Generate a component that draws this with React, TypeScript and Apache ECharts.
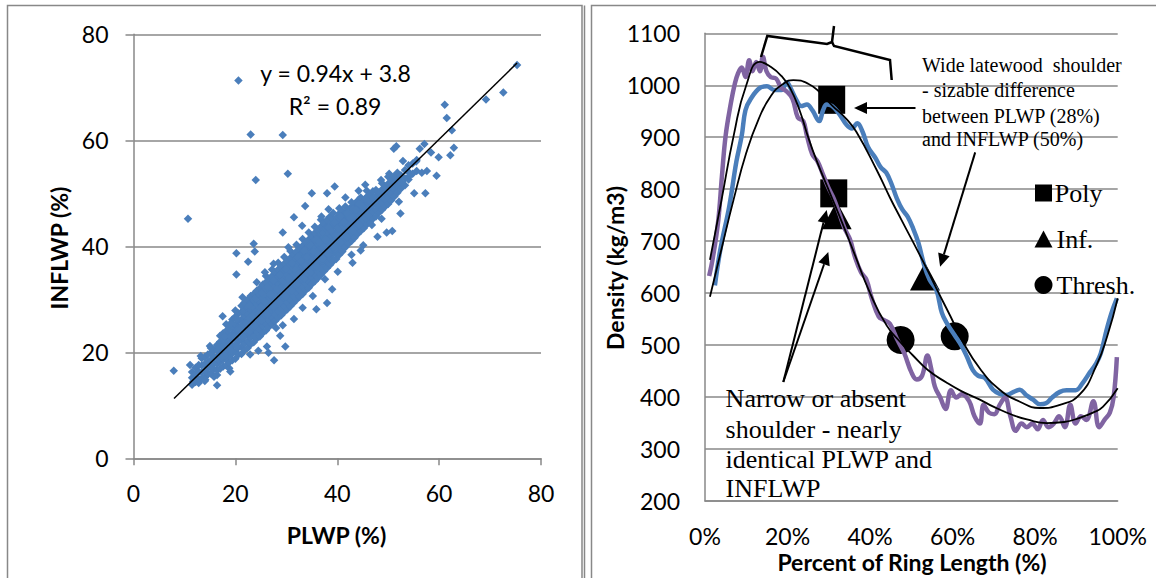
import React, { useEffect, useRef } from "react";
import * as echarts from "echarts";

// ---------- Left panel: PLWP vs INFLWP scatter ----------
// dense cloud, one row per PLWP column: [PLWP, INFLWP values]
const cloudRows: [number, number[]][] = [
  [11.5, [13.9, 15.2, 16.3]],
  [12.2, [14.4, 15.8, 17.1]],
  [12.8, [14.2, 15.0, 16.4, 17.6]],
  [13.4, [15.1, 16.2, 17.5, 18.9]],
  [14.0, [14.6, 15.3, 16.5, 17.8, 19.1]],
  [14.6, [15.8, 16.1, 17.0, 18.2, 19.6]],
  [15.2, [16.0, 17.3, 18.6, 19.9, 20.8]],
  [15.8, [15.4, 16.8, 18.0, 19.2, 20.5]],
  [16.4, [15.7, 16.6, 17.8, 19.1, 20.3, 21.4]],
  [17.0, [16.9, 18.2, 19.5, 20.7, 22.0, 23.1]],
  [17.6, [17.3, 18.6, 19.9, 21.2, 22.4, 23.6]],
  [18.2, [17.5, 18.8, 20.1, 21.5, 22.8, 24.0, 25.3]],
  [18.8, [17.0, 18.1, 19.4, 20.7, 22.0, 23.2, 24.5]],
  [19.4, [18.5, 19.8, 21.1, 22.4, 23.6, 24.9, 26.2]],
  [20.0, [18.8, 20.1, 21.4, 22.7, 24.0, 25.3, 26.7, 27.9]],
  [20.6, [19.6, 20.9, 22.2, 23.5, 24.8, 26.0, 27.3]],
  [21.2, [19.7, 21.0, 22.3, 23.6, 24.9, 26.2, 27.6, 28.8]],
  [21.8, [20.4, 21.7, 23.0, 24.3, 25.6, 26.9, 28.2, 29.4]],
  [22.4, [20.8, 22.1, 23.4, 24.7, 26.0, 27.3, 28.5, 29.9]],
  [23.0, [21.5, 22.8, 24.1, 25.4, 26.7, 28.0, 29.3, 30.6]],
  [23.6, [21.9, 23.2, 24.5, 25.8, 27.1, 28.4, 29.7, 31.0]],
  [24.2, [22.6, 23.9, 25.2, 26.5, 27.8, 29.1, 30.4, 31.6, 33.2]],
  [24.8, [23.0, 24.3, 25.6, 26.9, 28.2, 29.5, 30.8, 32.1]],
  [25.4, [23.7, 25.0, 26.3, 27.6, 28.9, 30.2, 31.5, 32.8]],
  [26.0, [24.1, 25.4, 26.7, 28.0, 29.3, 30.6, 31.9, 33.2, 34.4]],
  [26.6, [24.8, 26.1, 27.4, 28.7, 30.0, 31.3, 32.6, 33.9]],
  [27.2, [25.3, 26.6, 27.9, 29.2, 30.5, 31.8, 33.1, 34.4, 35.6]],
  [27.8, [25.9, 27.2, 28.5, 29.8, 31.1, 32.4, 33.7, 35.0]],
  [28.4, [26.5, 27.8, 29.1, 30.4, 31.7, 33.0, 34.3, 35.6, 36.9]],
  [29.0, [27.0, 28.3, 29.6, 30.9, 32.2, 33.5, 34.8, 36.1]],
  [29.6, [27.6, 28.9, 30.2, 31.5, 32.8, 34.1, 35.4, 36.7, 38.0]],
  [30.2, [28.1, 29.4, 30.7, 32.0, 33.3, 34.6, 35.9, 37.2]],
  [30.8, [28.7, 30.0, 31.3, 32.6, 33.9, 35.2, 36.5, 37.8, 39.1]],
  [31.4, [29.3, 30.6, 31.9, 33.2, 34.5, 35.8, 37.1, 38.4]],
  [32.0, [29.9, 31.2, 32.5, 33.8, 35.1, 36.4, 37.7, 39.0, 40.3]],
  [32.6, [30.5, 31.8, 33.1, 34.4, 35.7, 37.0, 38.3, 39.6]],
  [33.2, [31.0, 32.3, 33.6, 34.9, 36.2, 37.5, 38.8, 40.1, 41.4]],
  [33.8, [31.7, 33.0, 34.3, 35.6, 36.9, 38.2, 39.5, 40.8]],
  [34.4, [32.2, 33.5, 34.8, 36.1, 37.4, 38.7, 40.0, 41.3, 42.6]],
  [35.0, [32.9, 34.2, 35.5, 36.8, 38.1, 39.4, 40.7, 42.0]],
  [35.6, [33.4, 34.7, 36.0, 37.3, 38.6, 39.9, 41.2, 42.5, 43.7]],
  [36.2, [34.0, 35.3, 36.6, 37.9, 39.2, 40.5, 41.8, 43.1]],
  [36.8, [34.6, 35.9, 37.2, 38.5, 39.8, 41.1, 42.4, 43.7, 45.0]],
  [37.4, [35.3, 36.6, 37.9, 39.2, 40.5, 41.8, 43.1, 44.4]],
  [38.0, [35.9, 37.2, 38.5, 39.8, 41.1, 42.4, 43.7, 45.0]],
  [38.6, [36.5, 37.8, 39.1, 40.4, 41.7, 43.0, 44.3, 45.6]],
  [39.2, [37.2, 38.5, 39.8, 41.1, 42.4, 43.7, 45.0, 46.3]],
  [39.8, [37.6, 38.9, 40.2, 41.5, 42.8, 44.1, 45.4]],
  [40.4, [38.4, 39.7, 41.0, 42.3, 43.6, 44.9, 46.2, 47.2]],
  [41.0, [39.0, 40.3, 41.6, 42.9, 44.2, 45.5, 46.6]],
  [41.6, [39.8, 41.1, 42.4, 43.7, 45.0, 46.3, 47.5]],
  [42.2, [40.5, 41.8, 43.1, 44.4, 45.7, 46.9]],
  [42.8, [41.0, 42.3, 43.6, 44.9, 46.2, 47.4, 48.3]],
  [43.4, [41.6, 42.9, 44.2, 45.5, 46.8, 48.0]],
  [44.0, [42.3, 43.6, 44.9, 46.2, 47.5, 48.6]],
  [44.6, [42.9, 44.2, 45.5, 46.8, 48.1, 49.2]],
  [45.2, [43.4, 44.7, 46.0, 47.3, 48.6]],
  [45.8, [44.1, 45.4, 46.7, 48.0, 49.3, 50.5]],
  [46.4, [44.6, 45.9, 47.2, 48.5, 49.8]],
  [47.0, [45.2, 46.5, 47.8, 49.1, 50.4]],
  [47.6, [45.6, 46.9, 48.2, 49.5, 50.6]],
  [48.2, [46.4, 47.7, 49.0, 50.2]],
  [48.8, [46.9, 48.2, 49.5, 50.7, 51.9]],
  [49.4, [47.5, 48.8, 50.1, 51.3]],
  [50.0, [48.0, 49.3, 50.6, 51.8, 53.1]],
  [50.6, [48.7, 50.0, 51.3, 52.6]],
  [51.2, [49.4, 50.7, 52.0, 53.2]],
  [51.8, [50.1, 51.4, 52.7, 53.9]],
  [52.5, [50.9, 52.1, 53.4]],
  [53.3, [51.5, 52.8, 54.4]],
  [54.0, [52.6, 54.0, 55.3]],
  [54.8, [53.7, 55.6]],
  [55.6, [54.2, 56.3]],
  // interleaved core rows
  [16.7, [18.6, 21.0]],
  [17.9, [19.3, 21.9, 23.0]],
  [19.1, [20.4, 23.0, 25.5]],
  [20.3, [21.7, 24.3, 26.3]],
  [21.5, [22.9, 25.4, 27.7]],
  [22.7, [23.6, 26.4, 28.9]],
  [23.9, [24.9, 27.5, 30.1]],
  [25.1, [26.1, 28.6, 31.2]],
  [26.3, [27.1, 29.8, 32.3]],
  [27.5, [28.3, 30.9, 33.5]],
  [28.7, [29.4, 32.0, 34.6]],
  [29.9, [30.5, 33.1, 35.7]],
  [31.1, [31.6, 34.2, 36.8]],
  [32.3, [32.8, 35.4, 38.0]],
  [33.5, [33.9, 36.5, 39.1]],
  [34.7, [35.0, 37.6, 40.2]],
  [35.9, [36.1, 38.7, 41.3]],
  [37.1, [37.3, 39.9, 42.5]],
  [38.3, [38.4, 41.0, 43.6]],
  [39.5, [39.5, 42.1, 44.5]],
  [40.7, [40.7, 43.3, 45.6]],
  [41.9, [41.8, 44.4, 46.2]],
  [43.1, [42.9, 45.5, 47.1]],
  [44.3, [44.0, 46.6, 48.0]],
  [45.5, [45.2, 47.6, 49.0]],
];

// extra points between the rows of the dense core [PLWP, INFLWP]
const corePoints: [number, number][] = [
  [17.3, 19.0], [18.5, 21.2], [19.7, 23.0], [20.9, 24.2], [22.1, 25.5], [23.3, 26.9],
  [24.5, 27.3], [25.7, 29.6], [26.9, 30.9], [28.1, 31.9], [29.3, 33.4], [30.5, 34.0],
  [31.7, 35.6], [32.9, 37.2], [34.1, 38.0], [35.3, 39.0], [36.5, 40.7], [37.7, 41.3],
  [38.9, 42.9], [40.1, 43.4], [41.3, 44.6], [42.5, 45.3], [43.7, 46.9], [45.0, 47.5],
  [20.3, 21.0], [22.7, 23.9], [25.1, 26.0], [27.5, 28.6], [29.9, 30.5], [32.3, 32.8],
  [34.7, 35.2], [37.1, 37.7], [39.5, 39.9], [41.9, 41.7], [44.3, 44.0], [46.1, 45.8],
];

// sparse points around the edges of the cloud [PLWP, INFLWP]
const edgePoints: [number, number][] = [
  [17.5, 26.8], [21.4, 30.4], [27.5, 36.7], [33.1, 43.9], [36.9, 45.6], [41.6, 49.2],
  [44.2, 50.5], [24.5, 20.3], [31.5, 26.3], [35.2, 30.6], [40.1, 35.2], [45.1, 40.2],
  [19.0, 16.4], [15.0, 21.2], [13.2, 19.3], [46.8, 44.0], [48.7, 45.2], [42.8, 38.4],
  [25.8, 35.1], [30.4, 39.8], [38.3, 47.0], [28.0, 24.6], [37.6, 33.8], [22.9, 19.6],
];

// isolated points [PLWP, INFLWP]
const outliers: [number, number][] = [
  [20.6, 71.3], [23.0, 61.1], [29.3, 61.0], [24.0, 52.5], [30.3, 53.7], [10.7, 45.2],
  [75.3, 74.2], [72.6, 69.0], [69.2, 67.7], [61.1, 66.7], [61.5, 64.2], [62.5, 61.9],
  [62.9, 58.6], [62.2, 57.2], [59.9, 56.8], [59.5, 53.3], [57.3, 50.0], [55.1, 50.0],
  [52.4, 46.2], [52.1, 48.4], [50.8, 42.9], [49.7, 42.6], [47.9, 41.8], [58.4, 57.7],
  [56.2, 58.4], [57.1, 59.3], [51.1, 58.4], [51.6, 58.9], [52.9, 56.1], [55.5, 56.0],
  [56.6, 53.9], [57.6, 54.2], [54.2, 53.3], [50.2, 53.7], [48.6, 52.5], [45.5, 51.6],
  [39.5, 51.3], [38.0, 50.0], [35.0, 50.0], [33.7, 47.6], [31.5, 45.5], [29.3, 42.6],
  [20.2, 38.7], [23.6, 40.5], [23.8, 39.0], [20.2, 34.7], [22.5, 37.1], [43.0, 36.9],
  [39.0, 31.9], [38.0, 29.3], [35.9, 28.1], [33.2, 28.4], [29.3, 25.1], [28.8, 23.1],
  [29.8, 21.1], [27.6, 18.5], [26.5, 19.9], [26.2, 21.1], [7.9, 16.5], [11.1, 17.6],
  [16.4, 13.8], [14.1, 14.8], [11.7, 14.5], [44.6, 39.2],
];

// linear trend y = 0.94x + 3.8, drawn over the data range
const trendLine: [number, number][] = [[7.95, 11.27], [75.3, 74.58]];

// ---------- Right panel: density profiles ----------
// [percent of ring length, density kg/m3]
const profileWide: [number, number][] = [
  [2.4, 615], [3.7, 683], [5.9, 768], [7.6, 853], [8.9, 903], [9.8, 952], [11.1, 974],
  [13.3, 995], [15, 998], [16.8, 991], [18.5, 991], [19.8, 1006], [20.7, 995], [22, 974],
  [23.3, 960], [24.7, 963], [26, 952], [27.7, 931], [28.6, 952], [29.5, 963], [30.8, 960],
  [32.5, 945], [34.3, 924], [35.6, 917], [36.9, 927], [38.2, 910], [39.5, 881], [41.3, 860],
  [42.6, 842], [43.9, 832], [45.2, 810], [46.5, 782], [47.8, 761], [49.1, 747], [50.4, 725],
  [51.7, 697], [53.1, 654], [54.4, 626], [56.1, 605], [57.4, 562], [58.7, 541], [60.5, 519],
  [62.2, 498], [63.5, 477], [64.9, 452], [66.2, 441], [67.8, 437], [69.8, 414], [71.5, 406],
  [73, 404], [74.8, 410], [76.3, 414], [77.8, 404], [79.5, 395], [81.2, 386], [82.6, 388],
  [84.1, 399], [86, 410], [87.6, 413], [89.8, 413], [91.5, 427], [93.3, 448], [94.8, 465],
  [95.9, 484], [97.3, 529], [98.5, 562], [99.8, 590],
];

const profileNarrow: [number, number][] = [
  [1, 633], [1.9, 668], [3.2, 739], [4.1, 825], [5, 903], [6.3, 967], [7.2, 1002], [8, 1023],
  [8.9, 1034], [9.8, 1016], [10.7, 1048], [11.5, 1027], [12.4, 1045], [13.3, 1027], [14, 1055],
  [14.9, 1027], [15.9, 1016], [17.2, 1013], [18.5, 995], [19.8, 988], [21.2, 974], [22.5, 938],
  [23.8, 931], [24.7, 903], [26, 867], [27.3, 853], [28.6, 828], [29.9, 803], [31.2, 782],
  [32.5, 754], [33.8, 725], [35.1, 704], [36.4, 668], [37.8, 640], [39.1, 626], [40.4, 590],
  [42.1, 555], [43.4, 548], [44.8, 541], [46.5, 512], [48.3, 484], [50, 448], [51.3, 434],
  [52.6, 441], [53.9, 480], [54.8, 455], [55.7, 420], [57, 399], [58.3, 377], [59.6, 413],
  [60.9, 399], [62.2, 406], [64, 392], [65.3, 363], [66.6, 349], [67.5, 385], [68.8, 370],
  [70.1, 367], [71.4, 385], [72.7, 399], [74, 363], [75.3, 335], [76.7, 349], [78, 342],
  [79.3, 349], [80.6, 338], [81.9, 356], [83.2, 342], [84.5, 349], [85.8, 363], [87.2, 342],
  [88.5, 385], [89.8, 349], [91.1, 363], [92.4, 356], [94.1, 392], [95.5, 342], [96.8, 356],
  [98.1, 370], [99, 399], [99.8, 477],
];

// polynomial fits (black curves)
const fitWide: [number, number][] = [
  [1.2, 593], [4, 685], [6.9, 779], [10, 870], [13, 935], [16, 980], [19, 1003], [21.4, 1010],
  [25, 1003], [28, 985], [30.7, 962], [34.3, 935], [36.7, 910], [41.6, 837], [44.8, 784],
  [47.6, 741], [52.9, 660], [56, 610], [59.5, 555], [62.5, 506], [66.6, 455], [71.4, 414],
  [76.3, 391], [81.1, 379], [86, 385], [90.8, 405], [94.8, 460], [97.5, 518], [100, 590],
];

const fitNarrow: [number, number][] = [
  [1.2, 664], [4, 779], [7, 905], [10, 1000], [13.3, 1045], [16, 1035], [18.5, 1018],
  [20.6, 995], [23, 950], [25, 900], [27, 856], [30.3, 792], [33, 740], [36, 680], [40, 600],
  [44, 538], [47.4, 505], [50.4, 480], [54, 452], [58.5, 428], [62, 412], [66.6, 395],
  [70, 381], [74.7, 365], [78, 357], [82.8, 350], [87, 352], [90.8, 360], [94, 370],
  [96.4, 381], [100, 417],
];

// latewood transition estimates
const polyMarks: [number, number][] = [[30.7, 972], [31.2, 792]];
const infMarks: [number, number][] = [[31.9, 750], [53.3, 632]];
const threshMarks: [number, number][] = [[47.4, 510], [60.5, 517]];

const legendNames = ["Poly", "Inf.", "Thresh."];

const GRID = "#888888";
const BLUE = "#4A7EBB";
const PURPLE = "#8064A2";
const SANS = "Lato";
const SERIF = "Liberation Serif";

function txt(x: number, y: number, text: string, opts: any = {}) {
  const align = opts.align || "left";
  return {
    type: "text",
    x,
    y,
    rotation: opts.rotation || 0,
    z: 50,
    style: {
      text,
      fill: "#000",
      fontFamily: opts.family || SANS,
      fontSize: opts.size || 23,
      fontWeight: opts.weight || "normal",
      align,
      verticalAlign: "middle",
      textAlign: align,
      textVerticalAlign: "middle",
    },
  };
}

function arrow(x1: number, y1: number, x2: number, y2: number) {
  const dx = x2 - x1;
  const dy = y2 - y1;
  const len = Math.sqrt(dx * dx + dy * dy);
  const ux = dx / len;
  const uy = dy / len;
  const hl = 13;
  const hw = 6;
  const bx = x2 - ux * hl;
  const by = y2 - uy * hl;
  return [
    { type: "line", z: 50, shape: { x1, y1, x2: bx, y2: by }, style: { stroke: "#000", lineWidth: 2 } },
    {
      type: "polygon",
      z: 50,
      shape: { points: [[x2, y2], [bx - uy * hw, by + ux * hw], [bx + uy * hw, by - ux * hw]] },
      style: { fill: "#000" },
    },
  ];
}

export default function App() {
  const ref = useRef<HTMLDivElement>(null);
  useEffect(() => {
    if (!ref.current) return;
    const chart = echarts.init(ref.current, null, { renderer: "svg" });
    const scatterPts: [number, number][] = [];
    cloudRows.forEach(([x, ys]) => ys.forEach((y) => scatterPts.push([x, y])));
    corePoints.forEach((p) => scatterPts.push(p));
    edgePoints.forEach((p) => scatterPts.push(p));
    outliers.forEach((p) => scatterPts.push(p));

    const axisLabel = { fontFamily: SANS, fontSize: 23, color: "#000" };
    const lineStyle = { color: GRID, width: 1.5 };
    const solid = (c: string) => ({ color: c, opacity: 1 });

    const option: any = {
      animation: false,
      backgroundColor: "#fff",
      grid: [
        { left: 133.5, top: 34.3, width: 407.5, height: 424 },
        { left: 705, top: 33.3, width: 412.7, height: 467.7 },
      ],
      xAxis: [
        {
          gridIndex: 0, type: "value", min: 0, max: 80, interval: 20,
          axisLine: { show: true, onZero: false, lineStyle },
          axisTick: { show: true, length: 7, lineStyle },
          axisLabel: { ...axisLabel, margin: 23, formatter: (v: number) => String(v) },
          splitLine: { show: false },
        },
        {
          gridIndex: 1, type: "value", min: 0, max: 100, interval: 20,
          axisLine: { show: true, onZero: false, lineStyle },
          axisTick: { show: false },
          axisLabel: { ...axisLabel, margin: 23, formatter: (v: number) => `${v}%` },
          splitLine: { show: false },
        },
      ],
      yAxis: [
        {
          gridIndex: 0, type: "value", min: 0, max: 80, interval: 20,
          axisLine: { show: true, onZero: false, lineStyle },
          axisTick: { show: true, length: 8, lineStyle },
          axisLabel: { ...axisLabel, margin: 25, formatter: (v: number) => String(v) },
          splitLine: { show: true, lineStyle },
        },
        {
          gridIndex: 1, type: "value", min: 200, max: 1100, interval: 100,
          axisLine: { show: true, onZero: false, lineStyle },
          axisTick: { show: false },
          axisLabel: { ...axisLabel, margin: 25, formatter: (v: number) => String(v) },
          splitLine: { show: true, lineStyle },
        },
      ],
      series: [
        {
          type: "scatter", xAxisIndex: 0, yAxisIndex: 0, data: scatterPts,
          symbol: "diamond", symbolSize: 8.5, itemStyle: solid(BLUE), z: 2,
        },
        {
          type: "line", xAxisIndex: 0, yAxisIndex: 0, data: trendLine, showSymbol: false,
          lineStyle: { color: "#000", width: 1.5 }, z: 3,
        },
        {
          name: legendNames[0], type: "scatter", xAxisIndex: 1, yAxisIndex: 1, data: polyMarks,
          symbol: "rect", symbolSize: [27, 28], itemStyle: solid("#000"), z: 2,
        },
        {
          name: legendNames[1], type: "scatter", xAxisIndex: 1, yAxisIndex: 1, data: infMarks,
          symbol: "triangle", symbolSize: [30, 28], itemStyle: solid("#000"), z: 2,
        },
        {
          name: legendNames[2], type: "scatter", xAxisIndex: 1, yAxisIndex: 1, data: threshMarks,
          symbol: "circle", symbolSize: 28, itemStyle: solid("#000"), z: 2,
        },
        {
          type: "line", xAxisIndex: 1, yAxisIndex: 1, data: profileWide, showSymbol: false, smooth: 0.4,
          lineStyle: { color: BLUE, width: 4.5 }, z: 3,
        },
        {
          type: "line", xAxisIndex: 1, yAxisIndex: 1, data: profileNarrow, showSymbol: false, smooth: 0.4,
          lineStyle: { color: PURPLE, width: 4.5 }, z: 3,
        },
        {
          type: "line", xAxisIndex: 1, yAxisIndex: 1, data: fitWide, showSymbol: false, smooth: true,
          lineStyle: { color: "#000", width: 1.8 }, z: 4,
        },
        {
          type: "line", xAxisIndex: 1, yAxisIndex: 1, data: fitNarrow, showSymbol: false, smooth: true,
          lineStyle: { color: "#000", width: 1.8 }, z: 4,
        },
      ],
      graphic: [
        // panel frames
        { type: "rect", z: 40, shape: { x: 7.5, y: 5.5, width: 574.5, height: 600 }, style: { fill: "none", stroke: GRID, lineWidth: 1.5 } },
        { type: "line", z: 40, shape: { x1: 584.5, y1: 5.5, x2: 584.5, y2: 600 }, style: { stroke: GRID, lineWidth: 1.5 } },
        { type: "rect", z: 40, shape: { x: 591.5, y: 5.5, width: 600, height: 600 }, style: { fill: "none", stroke: GRID, lineWidth: 1.5 } },
        // axis titles
        txt(59, 248, "INFLWP (%)", { align: "center", weight: "bold", rotation: Math.PI / 2 }),
        txt(336.5, 534.6, "PLWP (%)", { align: "center", weight: "bold" }),
        txt(615, 268, "Density (kg/m3)", { align: "center", weight: "bold", rotation: Math.PI / 2 }),
        txt(912, 562, "Percent of Ring Length (%)", { align: "center", weight: "bold" }),
        // trend equation
        txt(335.5, 73, "y = 0.94x + 3.8", { align: "center" }),
        txt(335, 106, "R\u00B2 = 0.89", { align: "center" }),
        // brace
        { type: "polyline", z: 50, shape: { points: [[761, 57], [767.3, 36], [827, 44], [832, 42], [834, 26]] }, style: { stroke: "#000", lineWidth: 2.5, fill: "none" } },
        { type: "polyline", z: 50, shape: { points: [[832, 42], [834, 46], [890, 60], [891.7, 80]] }, style: { stroke: "#000", lineWidth: 2.5, fill: "none" } },
        // arrows
        ...arrow(915.5, 108, 854, 108),
        ...arrow(975.2, 152.4, 940.1, 266.8),
        ...arrow(783.3, 382, 826.7, 210),
        ...arrow(783.3, 382, 828.3, 252),
        // annotation texts
        txt(922, 65, "Wide latewood  shoulder", { family: SERIF, size: 20 }),
        txt(922, 90, "- sizable difference", { family: SERIF, size: 20 }),
        txt(922, 115.5, "between PLWP (28%)", { family: SERIF, size: 20 }),
        txt(922, 139, "and INFLWP (50%)", { family: SERIF, size: 20 }),
        txt(725.6, 398, "Narrow or absent", { family: SERIF, size: 26 }),
        txt(725.6, 429, "shoulder - nearly", { family: SERIF, size: 26 }),
        txt(725.6, 459, "identical PLWP and", { family: SERIF, size: 26 }),
        txt(725.6, 488, "INFLWP", { family: SERIF, size: 26 }),
        // marker key
        { type: "rect", z: 50, shape: { x: 1035, y: 184.5, width: 17, height: 17 }, style: { fill: "#000" } },
        { type: "polygon", z: 50, shape: { points: [[1043.5, 230.5], [1052.5, 247.5], [1034.5, 247.5]] }, style: { fill: "#000" } },
        { type: "circle", z: 50, shape: { cx: 1043.5, cy: 285, r: 9 }, style: { fill: "#000" } },
        txt(1054.7, 193, legendNames[0], { family: SERIF, size: 26 }),
        txt(1056.5, 239, legendNames[1], { family: SERIF, size: 26 }),
        txt(1056.5, 285, legendNames[2], { family: SERIF, size: 26 }),
      ],
    };
    chart.setOption(option);
    return () => chart.dispose();
  }, []);
  return (
    <div
      ref={ref}
      style={{ position: "fixed", left: 0, top: 0, width: 1156, height: 578, background: "#fff" }}
    />
  );
}
